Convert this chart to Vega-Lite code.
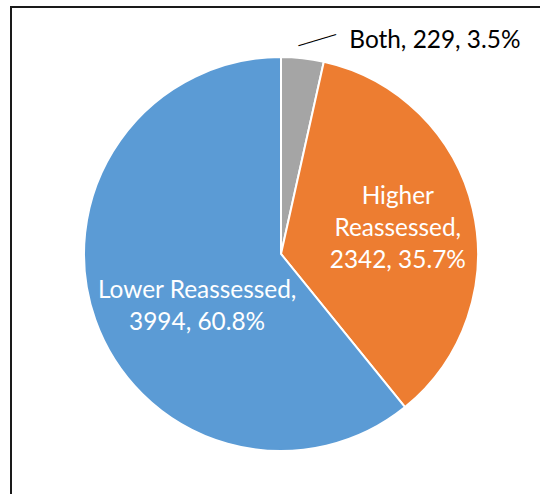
{
  "$schema": "https://vega.github.io/schema/vega-lite/v6.json",
  "width": 540,
  "height": 494,
  "autosize": {"type": "none"},
  "padding": {"left": 11, "top": 7, "right": 0, "bottom": 0},
  "background": "white",
  "config": {
    "view": {"stroke": null},
    "text": {"font": "Lato", "fontSize": 24.4, "lineBreak": "\n", "lineHeight": 32}
  },
  "data": {
    "values": [
      {"category": "Both", "count": 229, "ord": 1},
      {"category": "Higher Reassessed", "count": 2342, "ord": 2},
      {"category": "Lower Reassessed", "count": 3994, "ord": 3}
    ]
  },
  "transform": [
    {"joinaggregate": [{"op": "sum", "field": "count", "as": "total"}]},
    {"calculate": "format(datum.count / datum.total, '.1%')", "as": "pct"}
  ],
  "layer": [
    {
      "mark": {"type": "rect", "fill": null, "stroke": "#1a1a1a", "strokeWidth": 2},
      "encoding": {}
    },
    {
      "encoding": {
        "theta": {"field": "count", "type": "quantitative", "stack": true},
        "order": {"field": "ord", "type": "quantitative"}
      },
      "layer": [
        {
          "mark": {"type": "arc", "outerRadius": 197, "stroke": "white", "strokeWidth": 2},
          "encoding": {
            "color": {
              "field": "category",
              "type": "nominal",
              "scale": {
                "domain": ["Both", "Higher Reassessed", "Lower Reassessed"],
                "range": ["#A5A5A5", "#ED7D31", "#5B9BD5"]
              },
              "legend": null
            }
          }
        },
        {
          "transform": [
            {"calculate": "datum.category == 'Higher Reassessed' ? 'Higher\\nReassessed,\\n' + datum.count + ', ' + datum.pct : ''", "as": "label"}
          ],
          "mark": {"type": "text", "radius": 120, "color": "white", "align": "center", "baseline": "middle", "dy": -30},
          "encoding": {"text": {"field": "label"}}
        },
        {
          "transform": [
            {"calculate": "datum.category == 'Lower Reassessed' ? 'Lower Reassessed,\\n' + datum.count + ', ' + datum.pct : ''", "as": "label"}
          ],
          "mark": {"type": "text", "radius": 89, "color": "white", "align": "center", "baseline": "middle", "dy": 7},
          "encoding": {"text": {"field": "label"}}
        },
        {
          "transform": [
            {"calculate": "datum.category == 'Both' ? datum.category + ', ' + datum.count + ', ' + datum.pct : ''", "as": "label"}
          ],
          "mark": {"type": "text", "radius": 213, "color": "black", "align": "left", "baseline": "middle", "dx": 45, "dy": -1},
          "encoding": {"text": {"field": "label"}}
        },
        {
          "transform": [
            {"calculate": "datum.category == 'Both' ? '─────' : ''", "as": "leader"}
          ],
          "mark": {"type": "text", "font": "DejaVu Sans Mono", "fontSize": 13, "radius": 213, "color": "black", "align": "center", "baseline": "middle", "angle": -16.6, "dx": 13, "dy": 2},
          "encoding": {"text": {"field": "leader"}}
        }
      ]
    }
  ]
}
